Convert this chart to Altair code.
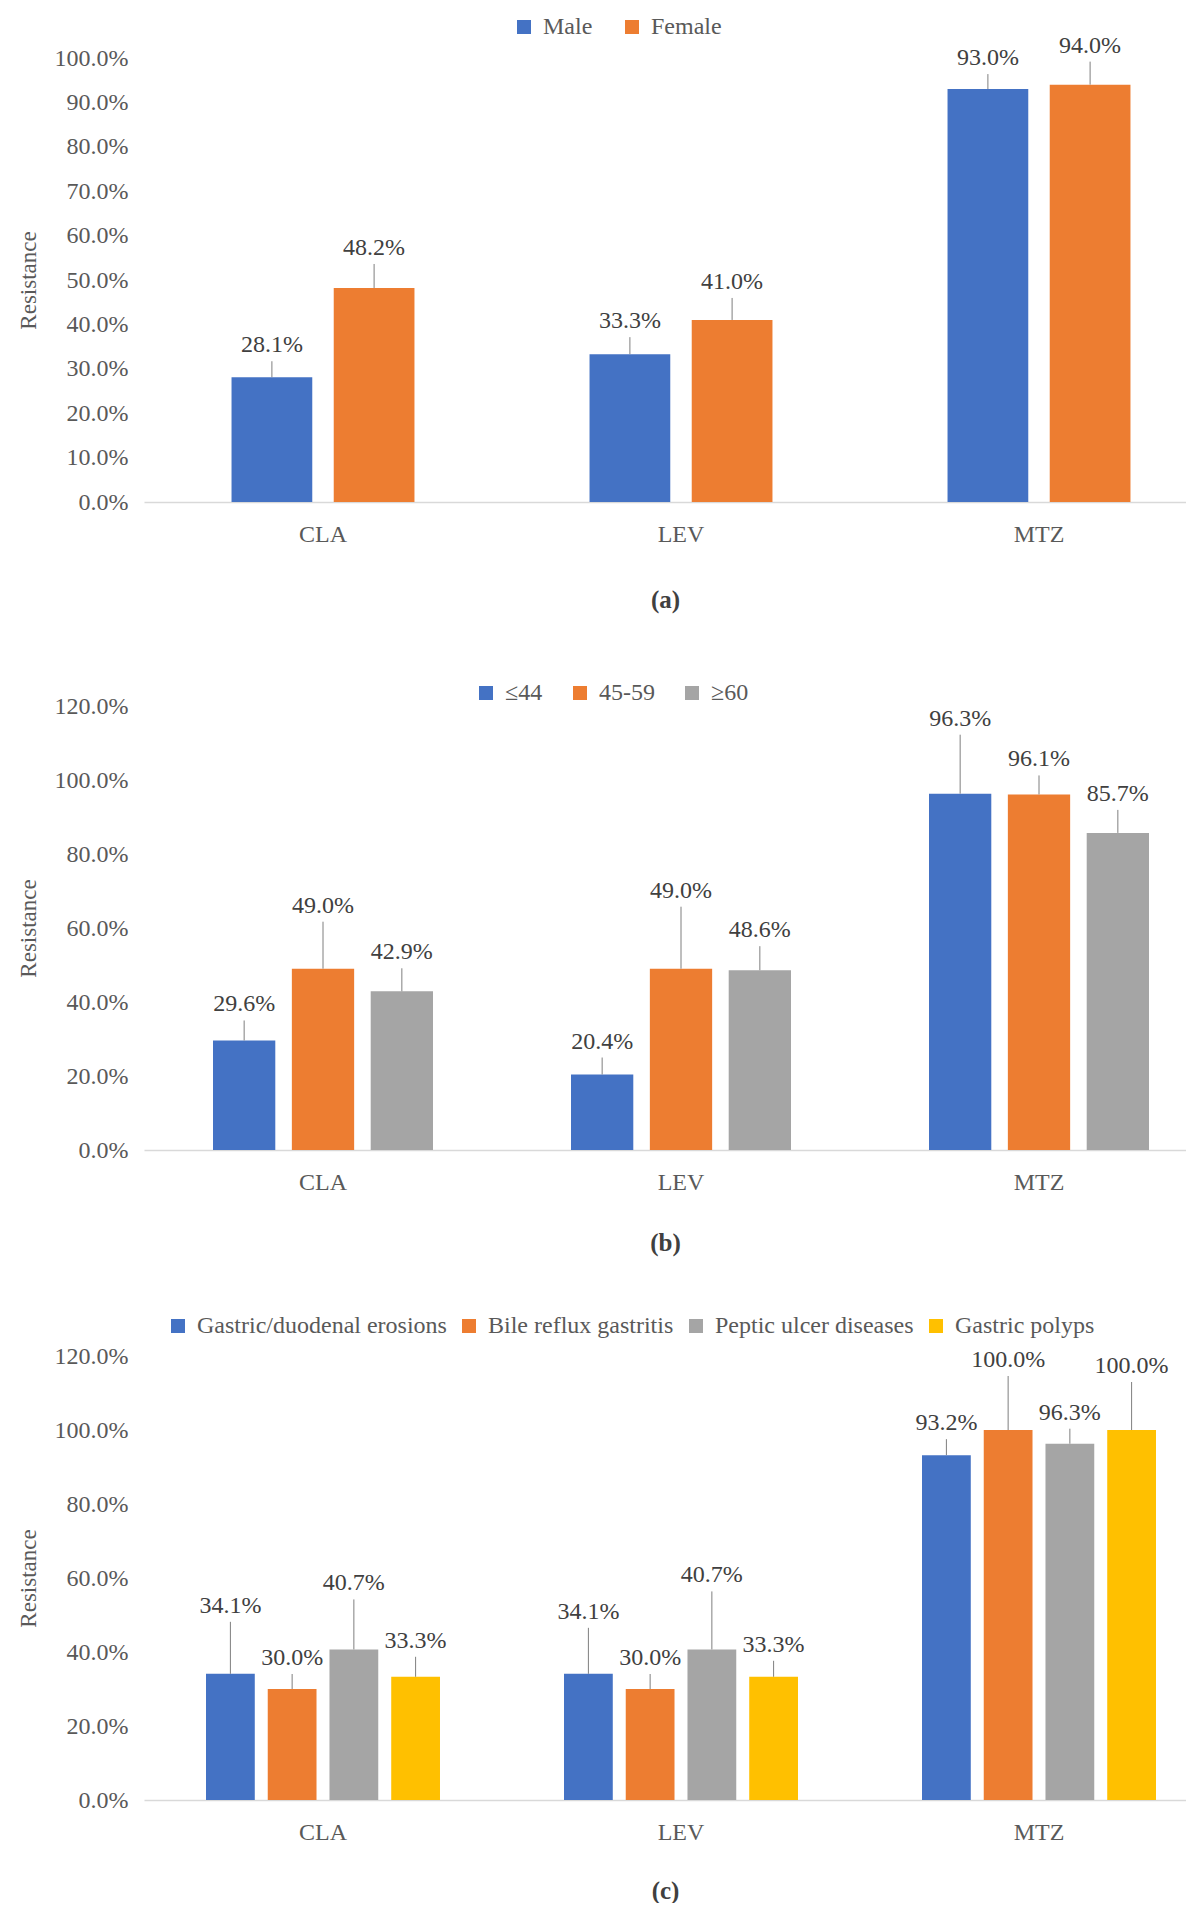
import altair as alt
import pandas as pd

# ---------------- data ----------------
DRUGS = ["CLA", "LEV", "MTZ"]

SEX_GROUPS = ["Male", "Female"]
SEX_VALUES = {
    "Male": [28.1, 33.3, 93.0],
    "Female": [48.2, 41.0, 94.0],
}

AGE_GROUPS = ["≤44", "45-59", "≥60"]
AGE_VALUES = {
    "≤44": [29.6, 20.4, 96.3],
    "45-59": [49.0, 49.0, 96.1],
    "≥60": [42.9, 48.6, 85.7],
}

DIS_GROUPS = ["Gastric/duodenal erosions", "Bile reflux gastritis",
              "Peptic ulcer diseases", "Gastric polyps"]
DIS_VALUES = {
    "Gastric/duodenal erosions": [34.1, 34.1, 93.2],
    "Bile reflux gastritis": [30.0, 30.0, 100.0],
    "Peptic ulcer diseases": [40.7, 40.7, 96.3],
    "Gastric polyps": [33.3, 33.3, 100.0],
}

# ---------------- style ----------------
PALETTE = ["#4472C4", "#ED7D31", "#A5A5A5", "#FFC000"]
FONT = "Liberation Serif"
W = 1042
H = 444
STEP = 358
FIRST_CENTER = 179

# data-label lift above the bar top, in pixels (label placement style)
SEX_LIFT = {"Male": [32, 33, 31], "Female": [40, 38, 39]}
AGE_LIFT = {"≤44": [36, 33, 75], "45-59": [63, 78, 35], "≥60": [39, 40, 39]}
DIS_LIFT = {
    "Gastric/duodenal erosions": [68, 62, 32],
    "Bile reflux gastritis": [31, 31, 70],
    "Peptic ulcer diseases": [66, 74, 31],
    "Gastric polyps": [36, 32, 64],
}
LINE_GAP = 16  # pixels between leader-line end and label centre


def table(groups, values, lifts, ymax):
    rows = []
    px = ymax / H
    for g in groups:
        for d, v, lift in zip(DRUGS, values[g], lifts[g]):
            val = v / 100.0
            rows.append({"drug": d, "group": g, "value": val,
                         "label_y": val + lift * px,
                         "line_top": val + (lift - LINE_GAP) * px})
    return pd.DataFrame(rows)


def band(ratio):
    pi = 1 - ratio
    po = (W / STEP - 3 + pi) / 2
    free = W - STEP * (3 - pi)
    align = (FIRST_CENTER - STEP * ratio / 2) / free
    return pi, po, align


def panel(groups, values, lifts, ymax, ystep, caption, lab_pad, cap_pad,
          ratio, leg_x, leg_y, col_pad):
    df = table(groups, values, lifts, ymax)
    pi, po, align = band(ratio)
    colors = PALETTE[:len(groups)]
    ticks = [round(i * ystep, 4) for i in range(int(round(ymax / ystep)) + 1)]

    base = alt.Chart(df).encode(
        x=alt.X("drug:N", sort=DRUGS,
                scale=alt.Scale(paddingInner=pi, paddingOuter=po, align=align),
                axis=alt.Axis(title=caption, labelAngle=0, labelFontSize=24,
                              labelFont=FONT, labelColor="#595959",
                              labelPadding=lab_pad, ticks=False, domain=True,
                              domainColor="#D9D9D9", domainWidth=1.5,
                              titleFont=FONT, titleFontSize=25,
                              titleFontWeight="bold", titleColor="#404040",
                              titlePadding=cap_pad)),
        xOffset=alt.XOffset("group:N", sort=groups,
                            scale=alt.Scale(paddingInner=0.21, paddingOuter=0)),
    )

    yscale = alt.Scale(domain=[0, ymax], nice=False, zero=True)
    yenc = alt.Y("value:Q", scale=yscale,
                 axis=alt.Axis(values=ticks, format=".1%", title="Resistance",
                               labelFont=FONT, labelFontSize=24,
                               labelColor="#595959", labelPadding=16,
                               ticks=False, domain=False, grid=False,
                               titleFont=FONT, titleFontSize=23,
                               titleFontWeight="normal", titleColor="#595959",
                               titlePadding=14))

    bars = base.mark_bar().encode(
        y=yenc,
        color=alt.Color("group:N",
                        scale=alt.Scale(domain=groups, range=colors),
                        legend=alt.Legend(title=None, orient="none",
                                          legendX=leg_x, legendY=leg_y,
                                          direction="horizontal",
                                          symbolType="square", symbolSize=196,
                                          symbolStrokeWidth=0,
                                          labelFont=FONT, labelFontSize=24,
                                          labelColor="#595959", labelOffset=7,
                                          labelLimit=1000,
                                          columnPadding=col_pad, padding=0)),
    )
    leaders = base.mark_rule(color="#7F7F7F", strokeWidth=1).encode(
        y=alt.Y("value:Q", scale=yscale), y2="line_top:Q"
    )
    labels = base.mark_text(font=FONT, fontSize=24, color="#404040",
                            baseline="middle").encode(
        y=alt.Y("label_y:Q", scale=yscale),
        text=alt.Text("value:Q", format=".1%"),
    )
    return alt.layer(bars, leaders, labels).properties(width=W, height=H)


pa = panel(SEX_GROUPS, SEX_VALUES, SEX_LIFT, 1.0, 0.1, "(a)", 20, 41,
           0.511, 368, -43, 27)
pb = panel(AGE_GROUPS, AGE_VALUES, AGE_LIFT, 1.2, 0.2, "(b)", 20, 36,
           0.6145, 330, -25, 25)
pc = panel(DIS_GROUPS, DIS_VALUES, DIS_LIFT, 1.2, 0.2, "(c)", 20, 34,
           0.6536, 22, -42, 10)

top = alt.vconcat(pa, pb, spacing=69).resolve_scale(
    color="independent", x="independent", y="independent", xOffset="independent")

chart = alt.vconcat(top, pc, spacing=59).resolve_scale(
    color="independent", x="independent", y="independent", xOffset="independent"
).properties(
    padding={"left": 9, "top": 7, "right": 0, "bottom": 0}
).configure(
    background="white", font=FONT
).configure_view(
    stroke=None
).configure_axis(
    labelFont=FONT, titleFont=FONT
).configure_legend(
    labelFont=FONT
).configure_text(
    font=FONT
)

chart.save("out.html", embed_options={"renderer": "svg", "actions": False})
